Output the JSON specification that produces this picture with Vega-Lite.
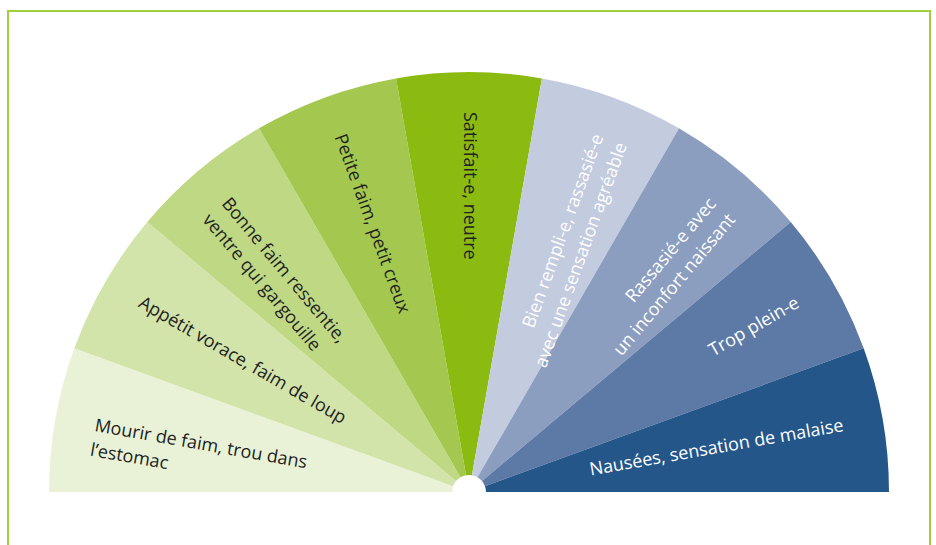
{
  "$schema": "https://vega.github.io/schema/vega-lite/v6.json",
  "width": 936,
  "height": 545,
  "autosize": {"type": "fit", "contains": "padding"},
  "padding": {"left": 8, "top": 11, "right": 6, "bottom": -2},
  "background": "#ffffff",
  "view": {"stroke": "#a2cd3e", "strokeWidth": 2},
  "config": {"font": "Open Sans"},
  "data": {
    "values": [
      {"level": 1, "label": "Mourir de faim, trou dans\nl’estomac"},
      {"level": 2, "label": "Appétit vorace, faim de loup"},
      {"level": 3, "label": "Bonne faim ressentie,\nventre qui gargouille"},
      {"level": 4, "label": "Petite faim, petit creux"},
      {"level": 5, "label": "Satisfait-e, neutre"},
      {"level": 6, "label": "Bien rempli-e, rassasié-e\navec une sensation agréable"},
      {"level": 7, "label": "Rassasié-e avec\nun inconfort naissant"},
      {"level": 8, "label": "Trop plein-e"},
      {"level": 9, "label": "Nausées, sensation de malaise"}
    ]
  },
  "encoding": {
    "y": {"datum": 0, "type": "quantitative", "scale": {"domain": [-55, 481], "nice": false, "zero": false}, "axis": null}
  },
  "layer": [
    {
      "mark": {"type": "arc", "radius": 420, "radius2": 17},
      "encoding": {
        "theta": {"aggregate": "count", "type": "quantitative", "stack": true, "scale": {"range": [-1.5707963, 1.5707963]}},
        "color": {
          "field": "level", "type": "ordinal",
          "scale": {"domain": [1, 2, 3, 4, 5, 6, 7, 8, 9], "range": ["#e9f2d7", "#d3e4ab", "#bed884", "#a4c84f", "#8bbb11", "#c3cbde", "#8c9ebf", "#5d79a5", "#24568a"]},
          "legend": null
        },
        "order": {"field": "level", "type": "quantitative"}
      }
    },
    {
      "transform": [{"filter": "datum.level <= 5"}],
      "mark": {"type": "text", "radius": 380, "align": "left", "baseline": "middle", "fontSize": 18, "lineBreak": "\n", "lineHeight": 25, "color": "#222222"},
      "encoding": {
        "theta": {"field": "level", "type": "quantitative", "stack": null, "scale": {"domain": [0.5, 9.5], "range": [-1.5707963, 1.5707963]}},
        "angle": {"field": "level", "type": "quantitative", "scale": {"domain": [1, 5], "range": [10, 90]}, "legend": null},
        "text": {"field": "label", "type": "nominal"}
      }
    },
    {
      "transform": [{"filter": "datum.level >= 6"}],
      "mark": {"type": "text", "radius": 380, "align": "right", "baseline": "middle", "fontSize": 18, "lineBreak": "\n", "lineHeight": 25, "color": "#ffffff"},
      "encoding": {
        "theta": {"field": "level", "type": "quantitative", "stack": null, "scale": {"domain": [0.5, 9.5], "range": [-1.5707963, 1.5707963]}},
        "angle": {"field": "level", "type": "quantitative", "scale": {"domain": [6, 9], "range": [290, 350]}, "legend": null},
        "text": {"field": "label", "type": "nominal"}
      }
    }
  ],
  "resolve": {"scale": {"theta": "independent", "angle": "independent"}}
}
